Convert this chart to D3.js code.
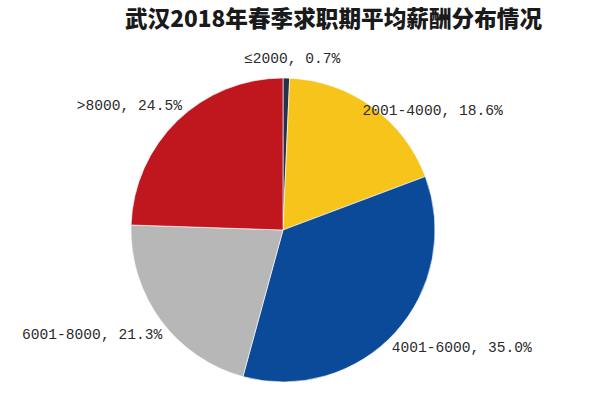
<!DOCTYPE html>
<html>
<head>
<meta charset="utf-8">
<script src="https://cdn.jsdelivr.net/npm/d3@7"></script>
<style>
  html, body { margin: 0; padding: 0; background: #fff; }
  svg { display: block; }
</style>
</head>
<body>
<svg id="chart" width="598" height="400"></svg>
<script>
// ---- data ----
const title = "武汉2018年春季求职期平均薪酬分布情况";
const categories = ["≤2000", "2001-4000", "4001-6000", "6001-8000", ">8000"];
const values = [0.7, 18.6, 35.0, 21.3, 24.5];
const valueLabels = ["0.7%", "18.6%", "35.0%", "21.3%", "24.5%"];

// ---- styling / layout (not data) ----
const colors = ["#27304d", "#f6c41b", "#0b4a99", "#b7b7b7", "#c0171f"];
const labelNudges = [[5, 14], [41, 31], [42, -7], [-42, -5], [-25, 9]];

const W = 598, H = 400;
const cx = 283, cy = 230, R = 152;

const svg = d3.select("#chart");

svg.append("text")
  .attr("x", 125)
  .attr("y", 27)
  .attr("textLength", 417)
  .attr("lengthAdjust", "spacingAndGlyphs")
  .attr("font-family", "'Noto Sans CJK SC', sans-serif")
  .attr("font-weight", 900)
  .attr("font-size", 22.5)
  .attr("fill", "#1a1a1a")
  .text(title);

const data = categories.map((c, i) => ({ cat: c, value: values[i], label: valueLabels[i], i }));

const pie = d3.pie().value(d => d.value).sort(null);
const arcs = pie(data);

const arc = d3.arc().innerRadius(0).outerRadius(R);
const labelArc = d3.arc().innerRadius(185).outerRadius(185);

const g = svg.append("g").attr("transform", `translate(${cx},${cy})`);

g.selectAll("path.slice")
  .data(arcs)
  .join("path")
  .attr("class", "slice")
  .attr("d", arc)
  .attr("fill", d => colors[d.data.i])
  .attr("stroke", "#ffffff")
  .attr("stroke-width", 0.6);

g.selectAll("text.lbl")
  .data(arcs)
  .join("text")
  .attr("class", "lbl")
  .attr("x", d => labelArc.centroid(d)[0] + labelNudges[d.data.i][0])
  .attr("y", d => labelArc.centroid(d)[1] + labelNudges[d.data.i][1])
  .attr("text-anchor", "middle")
  .attr("dominant-baseline", "central")
  .attr("font-family", "'Liberation Mono', 'DejaVu Sans Mono', monospace")
  .attr("font-size", 14.6)
  .attr("fill", "#2b2b2b")
  .text(d => `${d.data.cat}, ${d.data.label}`);
</script>
</body>
</html>
